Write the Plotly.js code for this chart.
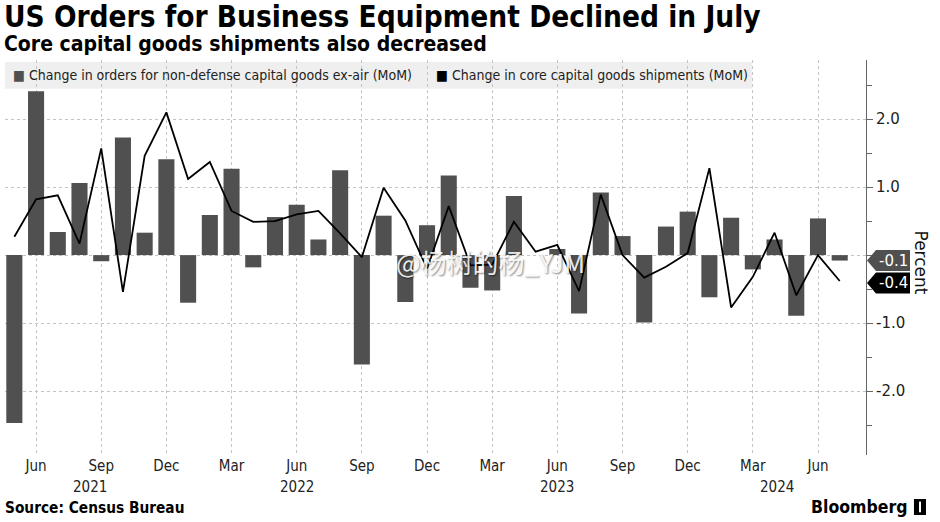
<!DOCTYPE html>
<html>
<head>
<meta charset="utf-8">
<script src="https://cdn.plot.ly/plotly-3.0.1.min.js"></script>
<style>
  html, body { margin: 0; padding: 0; background: #ffffff; }
  #chart { width: 940px; height: 522px; }
</style>
</head>
<body>
<div id="chart"></div>
<script>
// ---- data ----
const months = [
  '2021-05','2021-06','2021-07','2021-08','2021-09','2021-10','2021-11','2021-12',
  '2022-01','2022-02','2022-03','2022-04','2022-05','2022-06','2022-07','2022-08','2022-09','2022-10','2022-11','2022-12',
  '2023-01','2023-02','2023-03','2023-04','2023-05','2023-06','2023-07','2023-08','2023-09','2023-10','2023-11','2023-12',
  '2024-01','2024-02','2024-03','2024-04','2024-05','2024-06','2024-07'
];
const ordersExAir = [
  -2.47, 2.41, 0.34, 1.06, -0.09, 1.73, 0.33, 1.41,
  -0.70, 0.59, 1.27, -0.18, 0.56, 0.74, 0.23, 1.25, -1.61, 0.58, -0.69, 0.44,
  1.17, -0.48, -0.52, 0.87, 0.00, 0.09, -0.86, 0.92, 0.28, -0.99, 0.42, 0.64,
  -0.62, 0.55, -0.21, 0.23, -0.89, 0.54, -0.08
];
const coreShipments = [
  0.27, 0.82, 0.88, 0.17, 1.57, -0.54, 1.46, 2.10,
  1.12, 1.37, 0.65, 0.49, 0.50, 0.60, 0.65, 0.32, -0.03, 0.99, 0.51, -0.20,
  0.72, -0.15, -0.14, 0.49, 0.05, 0.15, -0.53, 0.89, 0.00, -0.33, -0.17, 0.03,
  1.28, -0.77, -0.32, 0.33, -0.59, 0.00, -0.38
];
const tickMonths = ['2021-06','2021-09','2021-12','2022-03','2022-06','2022-09','2022-12',
                    '2023-03','2023-06','2023-09','2023-12','2024-03','2024-06'];
const tickText = ['Jun','Sep','Dec','Mar','Jun','Sep','Dec','Mar','Jun','Sep','Dec','Mar','Jun'];
const yearLabels = ['2021','2022','2023','2024'];
const yearPos = [3.5, 13, 25, 35.1];
const yTickVals = [-2, -1, 0, 1, 2];
const yTickText = ['-2.0', '-1.0', '', '1.0', '2.0'];
const seriesNames = ['Change in orders for non-defense capital goods ex-air (MoM)',
                     'Change in core capital goods shipments (MoM)'];
const titleText = 'US Orders for Business Equipment Declined in July';
const subtitleText = 'Core capital goods shipments also decreased';
const sourceText = 'Source: Census Bureau';

// ---- styles ----
const BAR = '#505050';
const CONDENSED = "'DejaVu Sans Condensed', 'Liberation Sans Narrow', 'DejaVu Sans', sans-serif";
const SANS = "'DejaVu Sans', sans-serif";

const traces = [
  {
    type: 'bar', x: months, y: ordersExAir, name: seriesNames[0],
    marker: { color: BAR, line: { width: 0 } }, showlegend: false, hoverinfo: 'skip'
  },
  {
    type: 'scatter', mode: 'lines', x: months, y: coreShipments, name: seriesNames[1],
    line: { color: '#000000', width: 1.8 }, showlegend: false, hoverinfo: 'skip'
  }
];

const lastBar = ordersExAir[ordersExAir.length - 1];
const lastLine = coreShipments[coreShipments.length - 1];

const annotations = [
  { xref: 'paper', yref: 'paper', x: 0, y: 1, xanchor: 'left', yanchor: 'middle', xshift: -3, yshift: 43,
    text: '<b>' + titleText + '</b>', showarrow: false, font: { family: CONDENSED, size: 29.5, color: '#000' } },
  { xref: 'paper', yref: 'paper', x: 0, y: 1, xanchor: 'left', yanchor: 'middle', xshift: -3, yshift: 16,
    text: '<b>' + subtitleText + '</b>', showarrow: false, font: { family: CONDENSED, size: 21, color: '#000' } },
  { xref: 'paper', yref: 'paper', x: 0.0075, y: 0.9608, xanchor: 'left', yanchor: 'middle',
    text: '<span style="color:' + BAR + '">■</span> ' + seriesNames[0], showarrow: false,
    font: { family: CONDENSED, size: 14, color: '#222' } },
  { xref: 'paper', yref: 'paper', x: 0.4985, y: 0.9608, xanchor: 'left', yanchor: 'middle',
    text: '<span style="color:#000">■</span> ' + seriesNames[1], showarrow: false,
    font: { family: CONDENSED, size: 14, color: '#222' } },
  { xref: 'paper', yref: 'paper', x: 1, y: 0.5, xanchor: 'center', yanchor: 'middle', xshift: 55, yshift: -5,
    text: 'Percent', textangle: 90, showarrow: false, font: { family: SANS, size: 17, color: '#111' } },
  { xref: 'paper', yref: 'y', x: 1, y: lastBar, xanchor: 'center', yanchor: 'middle', xshift: 27,
    text: lastBar.toFixed(1), showarrow: false, font: { family: SANS, size: 15, color: '#ffffff' } },
  { xref: 'paper', yref: 'y', x: 1, y: lastLine, xanchor: 'center', yanchor: 'middle', xshift: 27, yshift: -2,
    text: lastLine.toFixed(1), showarrow: false, font: { family: SANS, size: 15, color: '#ffffff' } },
  { xref: 'paper', yref: 'paper', x: 0, y: 0, xanchor: 'left', yanchor: 'middle', xshift: -2, yshift: -53,
    text: '<b>' + sourceText + '</b>', showarrow: false, font: { family: CONDENSED, size: 15.3, color: '#000' } },
  { xref: 'paper', yref: 'paper', x: 1, y: 0, xanchor: 'right', yanchor: 'middle', xshift: 43, yshift: -52,
    text: '<b>Bloomberg</b>', showarrow: false, font: { family: CONDENSED, size: 17.5, color: '#000' } },
  { xref: 'x', yref: 'y', x: 21.9, y: -0.1, xanchor: 'center', yanchor: 'middle',
    text: '@杨树的杨_YJM', showarrow: false,
    font: { family: "'Noto Sans CJK SC', sans-serif", size: 26, color: 'rgba(255,255,255,0.9)',
            shadow: '1px 1px 2px rgba(0,0,0,0.55)' } }
];
yearLabels.forEach((t, i) => annotations.push({
  xref: 'x', yref: 'paper', x: yearPos[i], y: 0, xanchor: 'center', yanchor: 'middle', yshift: -32,
  text: t, showarrow: false, font: { family: CONDENSED, size: 15, color: '#222' }
}));

function tagPath() {
  return 'M 1 0 L 10 10.5 L 44 10.5 L 44 -10.5 L 10 -10.5 Z';
}

const shapes = [
  { type: 'rect', xref: 'paper', yref: 'paper', x0: 0, x1: 0.8676, y0: 0.927, y1: 0.995,
    fillcolor: '#efefef', line: { width: 0 }, layer: 'below' },
  { type: 'path', xref: 'paper', yref: 'y', xsizemode: 'pixel', ysizemode: 'pixel',
    xanchor: 1, yanchor: lastBar, path: tagPath(), fillcolor: BAR, line: { width: 0 }, layer: 'above' },
  { type: 'path', xref: 'paper', yref: 'y', xsizemode: 'pixel', ysizemode: 'pixel',
    xanchor: 1, yanchor: lastLine, path: 'M 1 -2 L 10 8.5 L 44 8.5 L 44 -12.5 L 10 -12.5 Z',
    fillcolor: '#000000', line: { width: 0 }, layer: 'above' },
  { type: 'rect', xref: 'paper', yref: 'paper', x0: 1.0557, x1: 1.0697, y0: -0.1519, y1: -0.1114,
    fillcolor: '#000', line: { width: 0 } },
  { type: 'line', xref: 'paper', yref: 'paper', x0: 1.0627, x1: 1.0627, y0: -0.145, y1: -0.118,
    line: { color: '#fff', width: 2 } }
];

const layout = {
  width: 940, height: 522,
  margin: { l: 5, r: 74, t: 60, b: 67, pad: 0 },
  paper_bgcolor: '#ffffff', plot_bgcolor: '#ffffff',
  barmode: 'overlay', bargap: 0.26,
  showlegend: false,
  font: { family: CONDENSED, color: '#222' },
  xaxis: {
    type: 'category', categoryorder: 'array', categoryarray: months,
    range: [-0.43, 39.21], tickmode: 'array', tickvals: tickMonths, ticktext: tickText,
    showgrid: true, gridcolor: '#c4c4c4', griddash: 'dot', gridwidth: 1,
    ticks: '', showline: false, zeroline: false,
    tickfont: { family: CONDENSED, size: 15, color: '#222' }, fixedrange: true
  },
  yaxis: {
    side: 'right', range: [-2.94, 2.87], tickmode: 'array', tickvals: yTickVals, ticktext: yTickText,
    showgrid: true, gridcolor: '#c4c4c4', griddash: 'dot', gridwidth: 1, zeroline: false,
    showline: true, linecolor: '#666', linewidth: 1,
    ticks: 'outside', ticklen: 6, tickcolor: '#666', tickwidth: 1,
    minor: { tickmode: 'linear', tick0: 0.5, dtick: 1, ticks: 'outside', ticklen: 5, tickcolor: '#666', showgrid: false },
    tickfont: { family: SANS, size: 15, color: '#222' }, fixedrange: true
  },
  annotations: annotations,
  shapes: shapes
};

Plotly.newPlot('chart', traces, layout, { staticPlot: true, displayModeBar: false });
</script>
</body>
</html>
